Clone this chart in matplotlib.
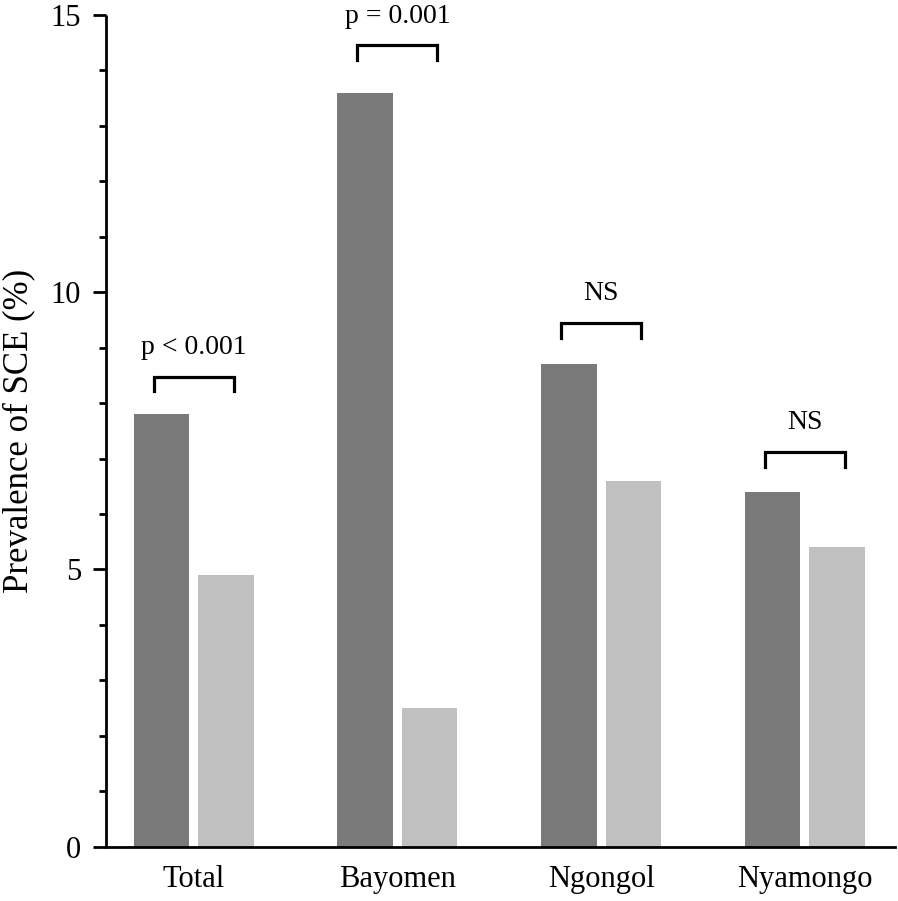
import matplotlib
matplotlib.use("Agg")
import matplotlib.pyplot as plt
import numpy as np

# data
groups = ["Total", "Bayomen", "Ngongol", "Nyamongo"]
series_a = [7.8, 13.6, 8.7, 6.4]   # dark bars
series_b = [4.9, 2.5, 6.6, 5.4]    # light bars
p_labels = ["p < 0.001", "p = 0.001", "NS", "NS"]
bracket_y = [8.48, 14.45, 9.45, 7.12]

plt.rcParams["font.family"] = ["Liberation Serif", "DejaVu Serif"]

fig = plt.figure(figsize=(8.98, 9.01), dpi=100)
ax = fig.add_axes([106 / 898, 1 - 846.7 / 901, 789 / 898, 831.7 / 901])

x = np.arange(len(groups))
bar_w = 0.272
off = 0.158
ax.bar(x - off, series_a, width=bar_w, color="#7a7a7a", edgecolor="none")
ax.bar(x + off, series_b, width=bar_w, color="#c0c0c0", edgecolor="none")

# significance brackets
half = 0.196
leg = 0.27
for xi, yb, lab in zip(x, bracket_y, p_labels):
    ax.plot([xi - half, xi - half, xi + half, xi + half],
            [yb - leg, yb, yb, yb - leg], color="black", lw=2.3,
            solid_joinstyle="miter", clip_on=False)
    ax.annotate(lab, xy=(xi, yb), xytext=(0, 16.5), textcoords="offset points",
                ha="center", va="baseline", fontsize=20)

ax.set_xlim(-0.4305, 3.443)
ax.set_ylim(0, 15)
ax.set_xticks(x)
ax.set_xticklabels(groups, fontsize=22)
ax.tick_params(axis="x", length=0, pad=13)

ax.set_yticks([0, 5, 10, 15])
ax.set_yticks(np.arange(0, 16, 1), minor=True)
ax.tick_params(axis="y", which="major", length=9.6, width=2, pad=8.4, labelsize=22)
ax.tick_params(axis="y", which="minor", length=5.3, width=2)

ax.set_ylabel("Prevalence of SCE (%)", fontsize=25)
ax.yaxis.set_label_coords(-0.09, 0.5)

for s in ["top", "right"]:
    ax.spines[s].set_visible(False)
ax.spines["left"].set_linewidth(2)
ax.spines["bottom"].set_linewidth(2)
ax.spines["left"].set_capstyle("butt")

plt.savefig("out.png", dpi=100)
